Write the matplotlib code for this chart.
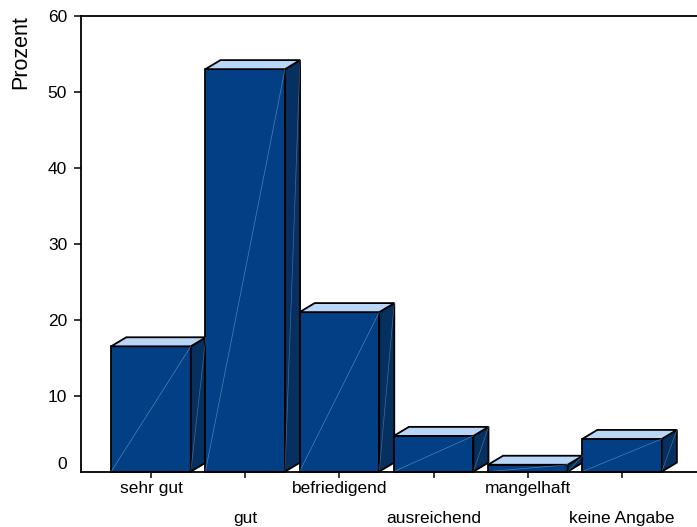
import matplotlib.pyplot as plt
from matplotlib.patches import Polygon
from matplotlib.transforms import ScaledTranslation

plt.rcParams['font.family'] = ['Liberation Sans', 'DejaVu Sans']

# survey results
categories = ['sehr gut', 'gut', 'befriedigend', 'ausreichend', 'mangelhaft', 'keine Angabe']
percent = [16.5, 53.0, 21.0, 4.7, 0.9, 4.3]
y_ticks = [0, 10, 20, 30, 40, 50, 60]

# colours of the pseudo 3d boxes
front_col = '#033F84'
side_col = '#06305F'
top_col = '#BAD6F7'
glint_col = '#8FB4E0'

bar_w = 0.845   # width of front face (x units)
depth_x = 0.16  # depth offset (x units)
depth_y = 1.19  # depth offset (y units)

fig = plt.figure(figsize=(6.97, 5.27), dpi=100)
ax = fig.add_axes([81 / 697, 55.4 / 527, 616 / 697, 455.6 / 527])

for i, h in enumerate(percent):
    x0 = i - bar_w / 2
    x1 = i + bar_w / 2
    front = [(x0, 0), (x1, 0), (x1, h), (x0, h)]
    side = [(x1, 0), (x1 + depth_x, depth_y), (x1 + depth_x, h + depth_y), (x1, h)]
    top = [(x0, h), (x1, h), (x1 + depth_x, h + depth_y), (x0 + depth_x, h + depth_y)]
    for pts, col in [(front, front_col), (side, side_col), (top, top_col)]:
        ax.add_patch(Polygon(pts, closed=True, facecolor=col, edgecolor='black',
                             linewidth=1.3, joinstyle='miter', clip_on=False, zorder=3))
    # thin highlight diagonals
    ax.plot([x0, x1], [0, h], color=glint_col, lw=0.5, alpha=0.55, zorder=4, clip_on=False)
    ax.plot([x1, x1 + depth_x], [0, h + depth_y], color=glint_col, lw=0.5, alpha=0.45,
            zorder=4, clip_on=False)

ax.set_xlim(-0.743, 5.796)
ax.set_ylim(0, 60)

ax.spines['right'].set_visible(False)
for s in ['left', 'bottom', 'top']:
    ax.spines[s].set_linewidth(1.3)
    ax.spines[s].set_zorder(5)

ax.set_yticks(y_ticks)
ax.set_yticklabels([str(v) for v in y_ticks])
ax.tick_params(axis='y', direction='out', length=5, width=1.1, pad=5, labelsize=12.5)

ax.set_xticks(range(len(categories)))
ax.set_xticklabels(categories)
ax.tick_params(axis='x', direction='out', length=4, width=1.1, labelsize=12.5)

# staggered category labels
for i, tick in enumerate(ax.xaxis.get_major_ticks()):
    tick.set_pad(3 if i % 2 == 0 else 24.5)

# lift the zero label off the axis line
lbl0 = ax.get_yticklabels()[0]
lbl0.set_transform(lbl0.get_transform() + ScaledTranslation(0, 9 / 100, fig.dpi_scale_trans))
ax.yaxis.get_major_ticks()[0].tick1line.set_visible(False)

fig.text(21 / 697, 1 - 52 / 527, 'Prozent', rotation=90, ha='center', va='center',
         fontsize=15.5)

fig.savefig('out.png', dpi=100)
